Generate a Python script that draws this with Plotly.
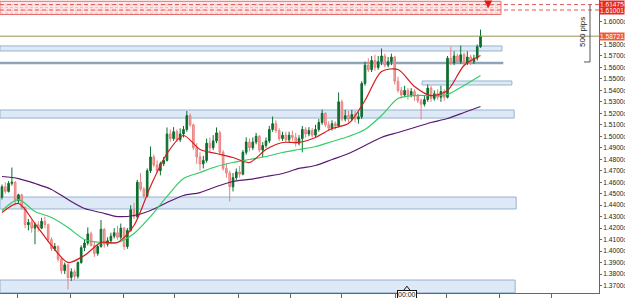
import plotly.graph_objects as go

# ---------------- data ----------------
opens = [1.4470,1.4560,1.4520,1.4590,1.4600,1.4440,1.4490,1.4380,1.4230,1.4250,
         1.4200,1.4230,1.4200,1.4260,1.4230,1.4100,1.4020,1.4040,1.3930,1.3830,
         1.3880,1.3770,1.3820,1.3780,1.3900,1.4030,1.4070,1.4150,1.4050,1.3980,
         1.4040,1.4190,1.4060,1.4090,1.4130,1.4160,1.4120,1.4200,1.4040,1.4180,
         1.4360,1.4300,1.4600,1.4540,1.4480,1.4700,1.4820,1.4750,1.4700,1.4760,
         1.4790,1.5020,1.4980,1.5040,1.4970,1.5020,1.5060,1.5180,1.5100,1.4900,
         1.4820,1.4760,1.4790,1.4940,1.4900,1.4960,1.5030,1.4860,1.4720,1.4680,
         1.4560,1.4640,1.4690,1.4670,1.4860,1.4950,1.4900,1.4950,1.5000,1.4880,
         1.4920,1.4960,1.5060,1.5110,1.5050,1.4980,1.5010,1.4970,1.5010,1.4990,
         1.4940,1.4980,1.5060,1.5020,1.5050,1.5010,1.5060,1.5120,1.5200,1.5100,
         1.5070,1.5110,1.5090,1.5300,1.5150,1.5180,1.5150,1.5190,1.5150,1.5170,
         1.5460,1.5620,1.5580,1.5660,1.5600,1.5650,1.5700,1.5620,1.5650,1.5690,
         1.5480,1.5400,1.5360,1.5400,1.5360,1.5390,1.5350,1.5310,1.5280,1.5320,
         1.5420,1.5330,1.5370,1.5340,1.5390,1.5340,1.5680,1.5640,1.5700,1.5650,
         1.5710,1.5640,1.5690,1.5650,1.5680,1.5780]
highs = [1.4580,1.4600,1.4610,1.4728,1.4610,1.4500,1.4500,1.4390,1.4280,1.4270,
         1.4250,1.4260,1.4290,1.4300,1.4240,1.4120,1.4070,1.4050,1.3950,1.3900,
         1.3890,1.3850,1.3840,1.3910,1.4050,1.4100,1.4206,1.4170,1.4080,1.4060,
         1.4270,1.4200,1.4120,1.4160,1.4200,1.4220,1.4240,1.4210,1.4200,1.4400,
         1.4420,1.4620,1.4680,1.4560,1.4720,1.4911,1.4840,1.4790,1.4780,1.4820,
         1.5077,1.5060,1.5080,1.5060,1.5070,1.5090,1.5220,1.5200,1.5110,1.4940,
         1.4860,1.4830,1.4980,1.4990,1.5010,1.5077,1.5050,1.4880,1.4760,1.4700,
         1.4680,1.4720,1.4740,1.4880,1.4990,1.4980,1.4990,1.5030,1.5010,1.4950,
         1.4990,1.5090,1.5172,1.5140,1.5070,1.5040,1.5040,1.5040,1.5050,1.5030,
         1.5010,1.5090,1.5080,1.5080,1.5070,1.5100,1.5150,1.5233,1.5210,1.5130,
         1.5140,1.5130,1.5382,1.5320,1.5230,1.5220,1.5230,1.5220,1.5210,1.5480,
         1.5650,1.5680,1.5700,1.5710,1.5700,1.5765,1.5720,1.5690,1.5720,1.5700,
         1.5520,1.5430,1.5440,1.5420,1.5420,1.5410,1.5370,1.5330,1.5350,1.5451,
         1.5440,1.5400,1.5410,1.5440,1.5410,1.5700,1.5782,1.5740,1.5720,1.5790,
         1.5730,1.5740,1.5710,1.5710,1.5800,1.5930]
lows = [1.4450,1.4500,1.4510,1.4570,1.4400,1.4420,1.4360,1.4200,1.4180,1.4160,
        1.4060,1.4170,1.4190,1.4200,1.4080,1.4000,1.4000,1.3910,1.3800,1.3800,
        1.3666,1.3740,1.3750,1.3760,1.3890,1.4000,1.4050,1.4040,1.3950,1.3960,
        1.4030,1.4030,1.4040,1.4070,1.4110,1.4100,1.4100,1.4010,1.4020,1.4170,
        1.4280,1.4280,1.4520,1.4460,1.4470,1.4680,1.4730,1.4680,1.4660,1.4740,
        1.4780,1.4950,1.4960,1.4950,1.4950,1.4990,1.5040,1.5080,1.4880,1.4760,
        1.4700,1.4720,1.4770,1.4860,1.4880,1.4940,1.4840,1.4700,1.4640,1.4432,
        1.4520,1.4620,1.4640,1.4660,1.4840,1.4870,1.4880,1.4930,1.4860,1.4815,
        1.4900,1.4940,1.5040,1.5030,1.4960,1.4960,1.4950,1.4950,1.4960,1.4910,
        1.4920,1.4860,1.4990,1.5000,1.4990,1.4990,1.5040,1.5100,1.5080,1.5050,
        1.5050,1.5060,1.5080,1.5130,1.5130,1.5120,1.5130,1.5120,1.5110,1.5150,
        1.5440,1.5560,1.5560,1.5570,1.5580,1.5620,1.5600,1.5600,1.5620,1.5450,
        1.5380,1.5330,1.5340,1.5320,1.5340,1.5310,1.5290,1.5146,1.5260,1.5300,
        1.5300,1.5310,1.5320,1.5300,1.5310,1.5330,1.5620,1.5620,1.5630,1.5630,
        1.5610,1.5620,1.5620,1.5630,1.5660,1.5770]
closes = [1.4560,1.4520,1.4590,1.4600,1.4440,1.4490,1.4380,1.4230,1.4250,1.4200,
          1.4230,1.4200,1.4260,1.4230,1.4100,1.4020,1.4040,1.3930,1.3830,1.3880,
          1.3770,1.3820,1.3780,1.3900,1.4030,1.4070,1.4150,1.4050,1.3980,1.4040,
          1.4190,1.4060,1.4090,1.4130,1.4160,1.4120,1.4200,1.4040,1.4180,1.4360,
          1.4300,1.4600,1.4540,1.4480,1.4700,1.4820,1.4750,1.4700,1.4760,1.4790,
          1.5020,1.4980,1.5040,1.4970,1.5020,1.5060,1.5180,1.5100,1.4900,1.4820,
          1.4760,1.4790,1.4940,1.4900,1.4960,1.5030,1.4860,1.4720,1.4680,1.4560,
          1.4640,1.4690,1.4670,1.4860,1.4950,1.4900,1.4950,1.5000,1.4880,1.4920,
          1.4960,1.5060,1.5110,1.5050,1.4980,1.5010,1.4970,1.5010,1.4990,1.4940,
          1.4980,1.5060,1.5020,1.5050,1.5010,1.5060,1.5120,1.5200,1.5100,1.5070,
          1.5110,1.5090,1.5300,1.5150,1.5180,1.5150,1.5190,1.5150,1.5170,1.5460,
          1.5620,1.5580,1.5660,1.5600,1.5650,1.5700,1.5620,1.5650,1.5690,1.5480,
          1.5400,1.5360,1.5400,1.5360,1.5390,1.5350,1.5310,1.5280,1.5320,1.5420,
          1.5330,1.5370,1.5340,1.5390,1.5340,1.5680,1.5640,1.5700,1.5650,1.5710,
          1.5640,1.5690,1.5650,1.5680,1.5780,1.5872]
bars = list(range(len(closes)))

ma_bars = [0,5,10,15,20,25,30,35,40,45,50,55,60,65,70,75,80,85,90,95,
           100,105,110,115,120,125,130,135,140,145]
ma_fast = [1.4336,1.4415,1.4240,1.4049,1.3901,1.3962,1.4075,1.4075,1.4223,1.4563,
           1.4850,1.5007,1.4885,1.4850,1.4815,1.4772,1.4885,1.4946,1.4946,1.4990,
           1.5068,1.5111,1.5312,1.5564,1.5582,1.5434,1.5355,1.5399,1.5617,1.5704]
ma_mid = [1.4354,1.4449,1.4345,1.4293,1.4206,1.4101,1.4075,1.4075,1.4153,1.4301,
          1.4476,1.4632,1.4685,1.4737,1.4772,1.4798,1.4824,1.4859,1.4885,1.4911,
          1.4955,1.4998,1.5059,1.5181,1.5329,1.5355,1.5355,1.5364,1.5443,1.5530]
ma_slow = [1.4650,1.4632,1.4589,1.4537,1.4449,1.4371,1.4336,1.4301,1.4310,1.4354,
           1.4423,1.4484,1.4510,1.4563,1.4606,1.4624,1.4650,1.4676,1.4720,1.4746,
           1.4798,1.4850,1.4920,1.4990,1.5033,1.5077,1.5120,1.5155,1.5207,1.5260]

# support / resistance zones
zone_low = [1.5743, 1.5447, 1.5159, 1.4367, 1.3637]
zone_high = [1.5787, 1.5482, 1.5229, 1.4471, 1.3748]
zone_start = [None, 127.3, None, None, None]
zone_end = [151.5, 154.5, 155.2, 155.8, 155.5]
level_line = 1.5639
level_line_end = 151.9
sell_zone = (1.6061, 1.6176)
sell_zone_end = 151.2
sell_arrow_bar = 147.3
sell_arrow_price = 1.6113
target_levels = [1.61475, 1.61001]
target_labels = ["1.61475", "1.61001"]
last_price = 1.58721
last_price_label = "1.58721"
pips_top = 1.61475
pips_bottom = 1.56475
pips_label = "500 pips"
price_ticks = [1.37, 1.38, 1.39, 1.40, 1.41, 1.42, 1.43, 1.44, 1.45, 1.46, 1.47,
               1.48, 1.49, 1.50, 1.51, 1.52, 1.53, 1.54, 1.55, 1.56, 1.57, 1.58, 1.60]
time_ticks = [4.85, 20.9, 36.7, 52.4, 71.8, 87.3, 103.0, 119.1, 134.8, 150.6, 166.4]
session_bar = 122.7
session_label = "00:00"

# ---------------- figure ----------------
X0, X1 = -0.6, 180.9
Y0, Y1 = 1.3635, 1.61873

fig = go.Figure()

fig.add_trace(go.Scatter(x=ma_bars, y=ma_slow, mode="lines",
                         line=dict(color="#5a1a72", width=1.2, shape="spline", smoothing=0.8),
                         hoverinfo="skip"))
fig.add_trace(go.Scatter(x=ma_bars, y=ma_mid, mode="lines",
                         line=dict(color="#35cc68", width=1.2, shape="spline", smoothing=0.8),
                         hoverinfo="skip"))
fig.add_trace(go.Candlestick(x=bars, open=opens, high=highs, low=lows, close=closes,
                             increasing=dict(line=dict(color="#0d6e2e", width=1), fillcolor="#0d6e2e"),
                             decreasing=dict(line=dict(color="#e98080", width=1), fillcolor="#f3aca6"),
                             whiskerwidth=0, hoverinfo="skip"))
fig.add_trace(go.Scatter(x=ma_bars, y=ma_fast, mode="lines",
                         line=dict(color="#d41c1c", width=1.2, shape="spline", smoothing=0.8),
                         hoverinfo="skip"))

# sell arrow
fig.add_trace(go.Scatter(x=[sell_arrow_bar], y=[sell_arrow_price], mode="markers",
                         marker=dict(symbol="arrow-down", size=8, color="#e01818",
                                     line=dict(width=0)),
                         hoverinfo="skip", cliponaxis=False))
# session caret
fig.add_trace(go.Scatter(x=[session_bar], y=[1.3668], mode="markers",
                         marker=dict(symbol="triangle-up-open", size=6, color="#111",
                                     line=dict(width=1, color="#111")),
                         hoverinfo="skip", cliponaxis=False))

shapes = []
for lo, hi, s, e in zip(zone_low, zone_high, zone_start, zone_end):
    shapes.append(dict(type="rect", xref="x", yref="y", x0=X0 if s is None else s, x1=e,
                       y0=lo, y1=hi, fillcolor="#dde9f6", line=dict(color="#97b3cf", width=1),
                       layer="below"))
shapes.append(dict(type="line", xref="x", yref="y", x0=X0, x1=level_line_end,
                   y0=level_line, y1=level_line, line=dict(color="#8ea4ba", width=2.5), layer="below"))
# sell zone with light hatching
shapes.append(dict(type="rect", xref="x", yref="y", x0=X0, x1=sell_zone_end,
                   y0=sell_zone[0], y1=sell_zone[1], fillcolor="#fde6e6",
                   line=dict(color="#e27070", width=1), layer="below"))
h = sell_zone[0] + 0.0012
while h < sell_zone[1] - 0.0008:
    shapes.append(dict(type="line", xref="x", yref="y", x0=X0, x1=sell_zone_end, y0=h, y1=h,
                       line=dict(color="#f5b5b5", width=1, dash="3px,2px"), layer="below"))
    h += 0.0024
for lv in target_levels:
    shapes.append(dict(type="line", xref="paper", yref="y", x0=0, x1=1, y0=lv, y1=lv,
                       line=dict(color="#e45858", width=1, dash="4px,3px")))
# last price line
shapes.append(dict(type="line", xref="paper", yref="y", x0=0, x1=1, y0=last_price, y1=last_price,
                   line=dict(color="#94945a", width=1)))
# pips ruler
shapes.append(dict(type="line", xref="paper", yref="y", x0=590/599, x1=590/599,
                   y0=pips_bottom, y1=pips_top, line=dict(color="#555", width=1)))
shapes.append(dict(type="line", xref="paper", yref="y", x0=584/599, x1=590/599,
                   y0=pips_bottom, y1=pips_bottom, line=dict(color="#555", width=1)))

annotations = []
for lv, lab in zip(target_levels, target_labels):
    annotations.append(dict(xref="paper", yref="y", x=1.0, y=lv, xanchor="left", yanchor="middle",
                            text=lab, showarrow=False, bgcolor="#e8281e", borderpad=0,
                            font=dict(family="Liberation Sans", size=6.6, color="white")))
annotations.append(dict(xref="paper", yref="y", x=1.0, y=last_price, xanchor="left", yanchor="middle",
                        text=last_price_label, showarrow=False, bgcolor="#f05a3a", borderpad=0,
                        font=dict(family="Liberation Sans", size=6.6, color="white")))
annotations.append(dict(xref="paper", yref="y", x=583/599, y=1.5909,
                        xanchor="center", yanchor="middle", text=pips_label, textangle=-90,
                        showarrow=False, font=dict(family="Liberation Sans", size=8, color="#222")))
annotations.append(dict(xref="x", yref="paper", x=session_bar, y=-0.006, xanchor="center",
                        yanchor="middle", text=session_label, showarrow=False, bgcolor="white",
                        bordercolor="#111", borderwidth=1, borderpad=0,
                        font=dict(family="Liberation Sans", size=7, color="#111")))

ticktext = [f"{v:.4f}<span style='font-size:4.5px'>0</span>" for v in price_ticks]

fig.update_layout(
    width=625, height=298, margin=dict(l=0, r=26, t=0, b=5, autoexpand=False),
    paper_bgcolor="white", plot_bgcolor="white", showlegend=False,
    shapes=shapes, annotations=annotations, hovermode=False,
    xaxis=dict(range=[X0, X1], showgrid=False, zeroline=False, showline=True,
               linecolor="#666", linewidth=1, ticks="outside", ticklen=4, tickcolor="#666",
               tickmode="array", tickvals=time_ticks, showticklabels=False, automargin=False,
               rangeslider=dict(visible=False), fixedrange=True),
    yaxis=dict(range=[Y0, Y1], side="right", showgrid=False, zeroline=False, showline=True,
               linecolor="#666", linewidth=1, ticks="outside", ticklen=2, tickcolor="#666",
               tickmode="array", tickvals=price_ticks, ticktext=ticktext, automargin=False,
               tickfont=dict(family="Liberation Sans", size=6.6, color="#222"),
               ticklabelstandoff=0, fixedrange=True),
)

fig.write_html("out.html")
